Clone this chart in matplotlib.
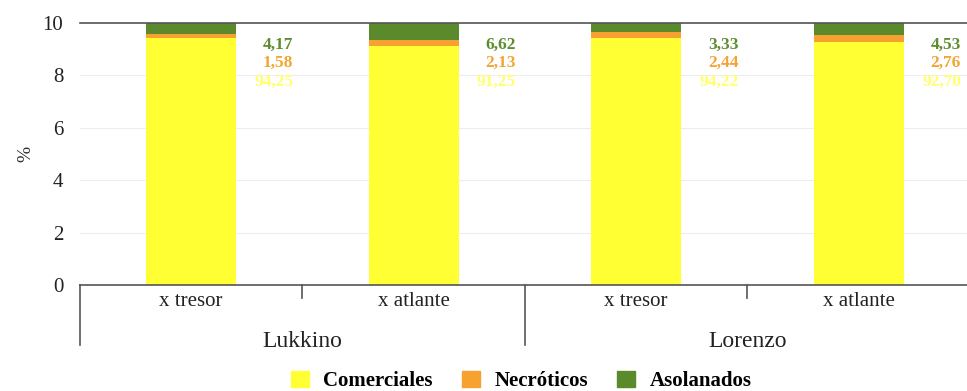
import numpy as np
import matplotlib
matplotlib.use('Agg')
from matplotlib import pyplot as plt
from matplotlib.patches import Patch

plt.rcParams['font.family'] = ['Liberation Serif', 'DejaVu Serif']

# data (percent of fruit per class)
groups = ['Lukkino', 'Lorenzo']
crosses = ['x tresor', 'x atlante', 'x tresor', 'x atlante']
comerciales = [94.25, 91.25, 94.22, 92.70]
necroticos = [1.58, 2.13, 2.44, 2.76]
asolanados = [4.17, 6.62, 3.33, 4.53]

yellow = '#FFFF33'
orange = '#F7A230'
green = '#5B8A2C'

fig = plt.figure(figsize=(9.67, 3.91), dpi=100)
ax = fig.add_axes([0.0827, 0.271, 0.9203, 0.67])

x = np.arange(len(crosses))
com = np.array(comerciales) / 10
nec = np.array(necroticos) / 10
aso = np.array(asolanados) / 10
w = 0.405
ax.bar(x, com, w, color=yellow, zorder=2)
ax.bar(x, nec, w, bottom=com, color=orange, zorder=2)
ax.bar(x, aso, w, bottom=com + nec, color=green, zorder=2)

# value labels to the right of each bar
def fmt(v):
    return f'{v:.2f}'.replace('.', ',')

for i in range(len(x)):
    ax.text(x[i] + 0.46, 9.16, fmt(asolanados[i]), color='#5E8C31', ha='right', va='center',
            fontsize=12.5, fontweight='bold')
    ax.text(x[i] + 0.46, 8.47, fmt(necroticos[i]), color='#F2A533', ha='right', va='center',
            fontsize=12.5, fontweight='bold')
    ax.text(x[i] + 0.46, 7.75, fmt(comerciales[i]), color='#FFFF70', ha='right', va='center',
            fontsize=12.5, fontweight='bold')

ax.set_xlim(-0.5, len(crosses) - 0.5)
ax.set_ylim(0, 10)
ax.set_yticks([0, 2, 4, 6, 8, 10])
ax.tick_params(axis='y', length=0, labelsize=15, colors='#222222', pad=12)
ax.set_xticks(x)
ax.set_xticklabels(crosses)
ax.tick_params(axis='x', length=0, labelsize=15, colors='#222222', pad=5)
ax.set_ylabel('%', fontsize=14, color='#333333', labelpad=6)
ax.yaxis.grid(True, color='#EDEDED', lw=0.8, zorder=0)

for s in ['left', 'right']:
    ax.spines[s].set_visible(False)
ax.spines['top'].set_color('#555555')
ax.spines['top'].set_linewidth(1.2)
ax.spines['bottom'].set_color('#555555')
ax.spines['bottom'].set_linewidth(1.2)

# group separators and short ticks below the axis
trans = ax.get_xaxis_transform()
for b in [-0.5, 1.5, 3.5]:
    ax.plot([b, b], [0, -0.23], color='#555555', lw=1.2, transform=trans, clip_on=False)
for b in [0.5, 2.5]:
    ax.plot([b, b], [0, -0.05], color='#555555', lw=1.2, transform=trans, clip_on=False)
for j, g in enumerate(groups):
    ax.text(2 * j + 0.5, -0.215, g, transform=trans, ha='center', va='center',
            fontsize=17, color='#222222')

handles = [Patch(color=yellow), Patch(color=orange), Patch(color=green)]
fig.legend(handles, ['Comerciales', 'Necróticos', 'Asolanados'], loc='center',
           bbox_to_anchor=(0.539, 0.026), ncol=3, frameon=False,
           prop={'weight': 'bold', 'size': 15}, handlelength=0.85, handleheight=0.85,
           columnspacing=1.4, handletextpad=0.7)

fig.savefig('out.png', dpi=100)
